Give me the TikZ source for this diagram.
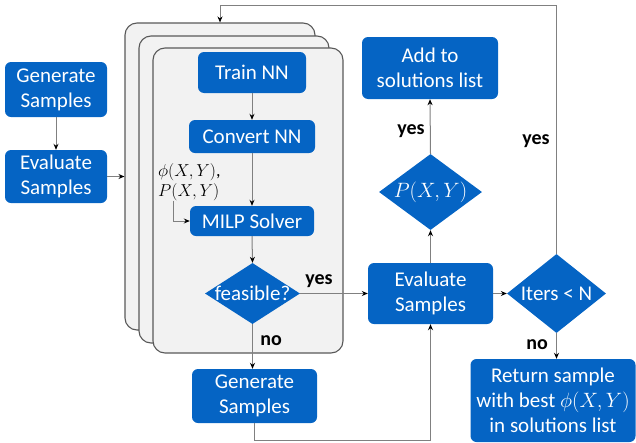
\documentclass[tikz,border=0pt]{standalone}
\usepackage{fontspec}
\setmainfont{Carlito}
\usetikzlibrary{shapes.geometric,arrows.meta}
\definecolor{boxblue}{RGB}{5,100,196}
\definecolor{cardfill}{RGB}{242,242,242}
\definecolor{cardline}{RGB}{89,89,89}
\definecolor{conn}{RGB}{128,128,128}
\tikzset{
  bbox/.style={draw=none, fill=boxblue, rounded corners=6pt, text=white, align=center,
    inner sep=0pt, font=\fontsize{21}{25}\selectfont},
  dia/.style={diamond, fill=boxblue, draw=none, inner sep=0pt, text=white},
  card/.style={draw=cardline, fill=cardfill, line width=1.1pt, rounded corners=12pt, inner sep=0pt},
  conline/.style={draw=conn, line width=1pt},
  arr/.style={conline, -{Stealth[length=6pt,width=5pt,color=black]}},
  lbl/.style={font=\bfseries\fontsize{20}{24}\selectfont, inner sep=0pt},
}
\begin{document}
\begin{tikzpicture}[x=1pt,y=-1pt]
\useasboundingbox (0,0) rectangle (636,442);
% stacked cards
\node[card, minimum width=190pt, minimum height=307pt] (card1) at (220,176.5) {};
\node[card, minimum width=190pt, minimum height=307pt] (card2) at (234,189.5) {};
\node[card, minimum width=190pt, minimum height=305pt] (card3) at (248,200.5) {};
% left column
\node[bbox, minimum width=102pt, minimum height=55pt] (genL) at (56,89.5) {Generate\\Samples};
\node[bbox, minimum width=102pt, minimum height=53pt] (evalL) at (56,176.5) {Evaluate\\Samples};
% inner
\node[bbox, minimum width=108pt, minimum height=41pt] (train) at (252,72.5) {Train NN};
\node[bbox, minimum width=126pt, minimum height=33pt] (convert) at (252,136.5) {Convert NN};
\node[bbox, minimum width=124pt, minimum height=30pt] (milp) at (252,221) {MILP Solver};
\node[dia, minimum width=95pt, minimum height=61pt,
  label={[text=white, font=\fontsize{21}{25}\selectfont]center:feasible?}] (feas) at (252.5,293.5) {};
\node[inner sep=0pt, align=left, anchor=north west, font=\fontsize{18}{20}\selectfont] (phi) at (158,163)
  {$\phi(X,Y)$,\\$P(X,Y)$};
% bottom generate
\node[bbox, minimum width=125pt, minimum height=54pt] (genB) at (254.5,396) {Generate\\Samples};
% middle column
\node[bbox, minimum width=125pt, minimum height=61pt] (evalM) at (430.5,293.5) {Evaluate\\Samples};
\node[dia, minimum width=103pt, minimum height=76pt,
  label={[text=white, font=\fontsize{20}{24}\selectfont]center:$P(X,Y)$}] (pxy) at (430.5,192) {};
\node[bbox, minimum width=136pt, minimum height=62pt] (add) at (430,68) {Add to\\solutions list};
% right column
\node[dia, minimum width=99pt, minimum height=79pt,
  label={[text=white, font=\fontsize{21}{25}\selectfont]center:Iters < N}] (iters) at (556.5,293.5) {};
\node[bbox, minimum width=165pt, minimum height=83pt] (ret) at (553,400.5)
  {Return sample\\with best $\phi(X,Y)$\\in solutions list};
% connectors
\draw[arr] (genL.south) -- (evalL.north);
\draw[arr] (evalL.east) -- (evalL.east -| card1.west);
\draw[arr] (train.south) -- (convert.north);
\draw[arr] (convert.south) -- (milp.north);
\draw[arr] ([xshift=15pt]phi.south west) |- (milp.west);
\draw[arr] (milp.south) -- (feas.north);
\draw[arr] (feas.east) -- (evalM.west);
\draw[arr] (feas.south) -- (feas.south |- genB.north);
\draw[arr] (genB.south) -- ++(0,17.5) -| (evalM.south);
\draw[arr] (evalM.north) -- (pxy.south);
\draw[arr] (pxy.north) -- (add.south);
\draw[arr] (evalM.east) -- (iters.west);
\coordinate (loopT) at (220,5);
\draw[arr] (iters.north) |- (loopT) -- (loopT |- card1.north);
\draw[arr] (iters.south) -- (iters.south |- ret.north);
% labels
\node[lbl] (yes1) at (319,281) {yes};
\node[lbl] (no1) at (271,341) {no};
\node[lbl] (yes2) at (411,131) {yes};
\node[lbl] (yes3) at (536,141) {yes};
\node[lbl] (no2) at (537,345) {no};
\end{tikzpicture}
\end{document}
